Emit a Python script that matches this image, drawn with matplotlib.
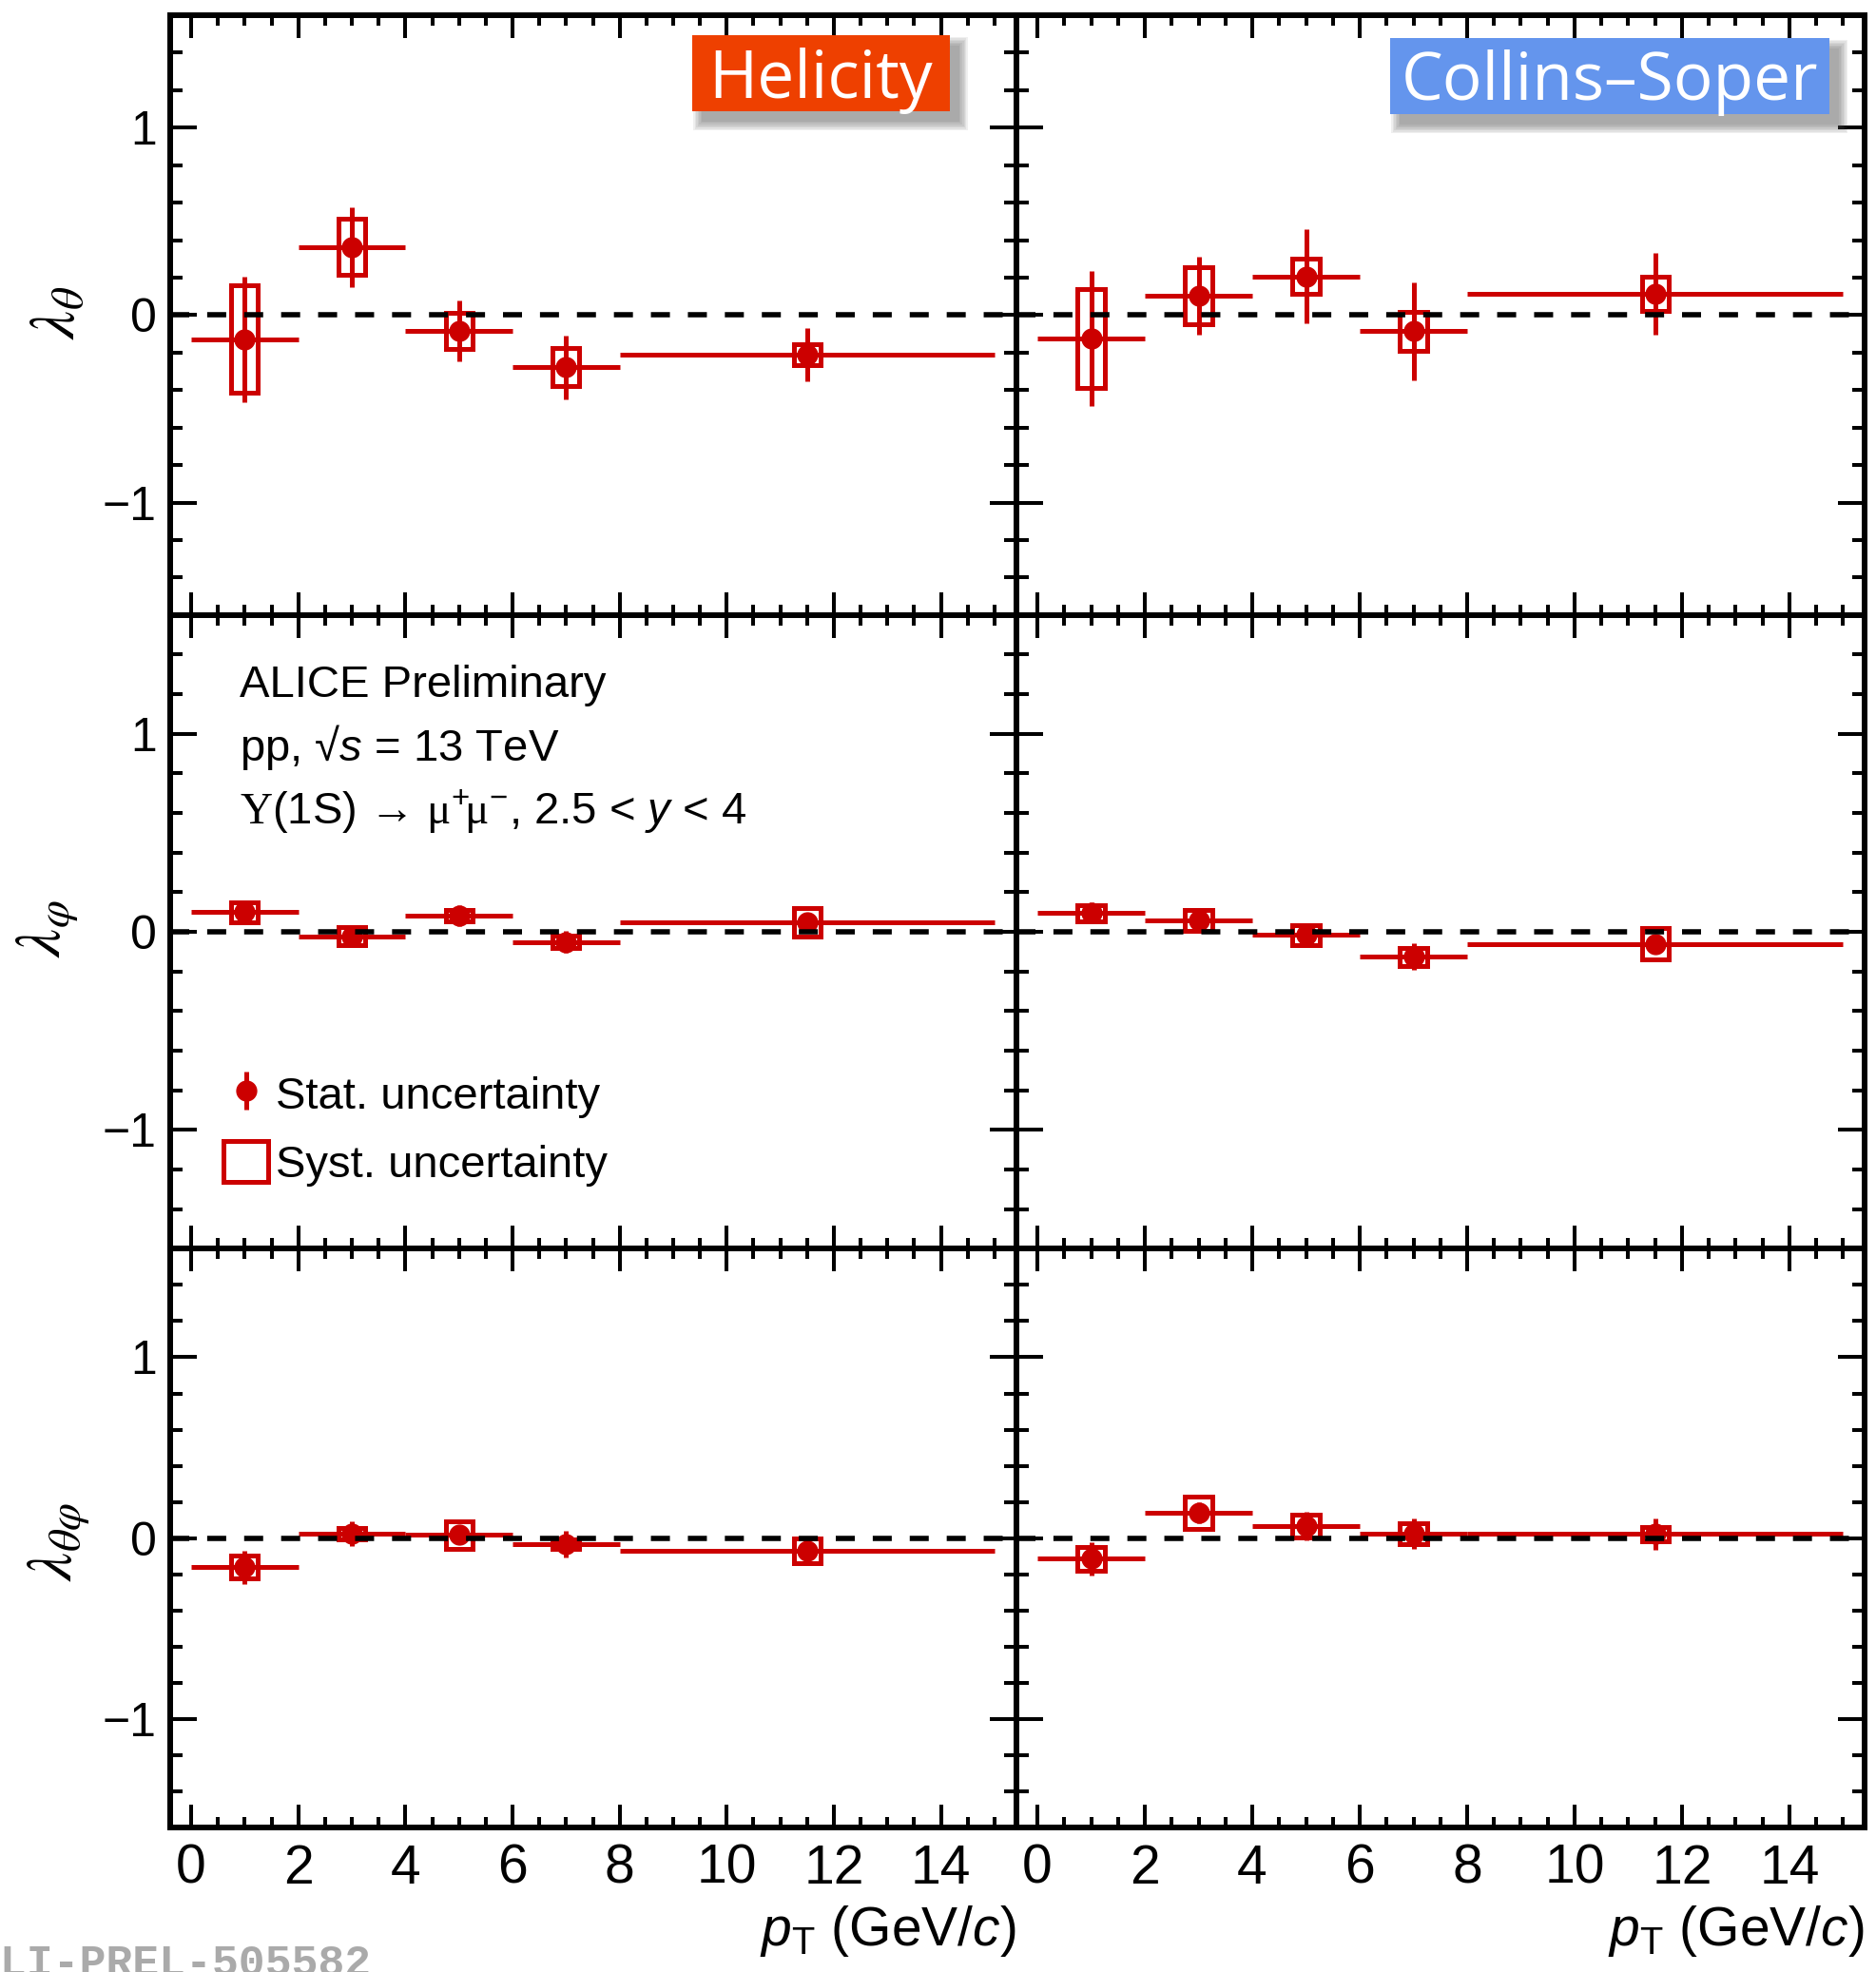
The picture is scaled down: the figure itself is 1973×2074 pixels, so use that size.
import matplotlib
matplotlib.use('Agg')
import matplotlib.pyplot as plt
from matplotlib.patches import Rectangle
from matplotlib.lines import Line2D
from matplotlib.legend_handler import HandlerTuple
import numpy as np

W, H = 1973, 2074
plt.rcParams['font.family'] = ['Liberation Sans', 'DejaVu Sans']
plt.rcParams['mathtext.fontset'] = 'custom'
plt.rcParams['mathtext.rm'] = 'Liberation Sans'
plt.rcParams['mathtext.it'] = 'Liberation Sans:italic'
plt.rcParams['mathtext.bf'] = 'Liberation Sans:bold'
plt.rcParams['mathtext.sf'] = 'Liberation Serif'

# ---------------- data ----------------
pt_centers = [1.0, 3.0, 5.0, 7.0, 11.5]
pt_low = [0.0, 2.0, 4.0, 6.0, 8.0]
pt_high = [2.0, 4.0, 6.0, 8.0, 15.0]

# Helicity frame
hx_lth = [-0.128, 0.363, -0.086, -0.278, -0.210]
hx_lth_stat = [0.335, 0.214, 0.163, 0.170, 0.143]
hx_lth_syst = [0.285, 0.150, 0.096, 0.100, 0.057]
hx_lph = [0.099, -0.022, 0.082, -0.050, 0.050]
hx_lph_stat = [0.062, 0.050, 0.055, 0.054, 0.040]
hx_lph_syst = [0.050, 0.045, 0.030, 0.030, 0.072]
hx_ltp = [-0.160, 0.024, 0.018, -0.034, -0.071]
hx_ltp_stat = [0.092, 0.070, 0.050, 0.075, 0.066]
hx_ltp_syst = [0.065, 0.030, 0.077, 0.025, 0.069]

# Collins-Soper frame
cs_lth = [-0.124, 0.103, 0.207, -0.086, 0.113]
cs_lth_stat = [0.360, 0.206, 0.250, 0.260, 0.220]
cs_lth_syst = [0.263, 0.153, 0.094, 0.105, 0.092]
cs_lph = [0.095, 0.058, -0.015, -0.125, -0.060]
cs_lph_stat = [0.053, 0.040, 0.055, 0.067, 0.040]
cs_lph_syst = [0.040, 0.055, 0.050, 0.045, 0.078]
cs_ltp = [-0.114, 0.140, 0.066, 0.023, 0.023]
cs_ltp_stat = [0.093, 0.060, 0.078, 0.085, 0.086]
cs_ltp_syst = [0.066, 0.088, 0.064, 0.057, 0.040]

row_labels = [r'$\lambda_{\theta}$', r'$\lambda_{\varphi}$', r'$\lambda_{\theta\varphi}$']
frame_labels = ['Helicity', 'Collins\u2013Soper']
frame_colors = ['#EE4000', '#6495ED']
x_ticks = [0, 2, 4, 6, 8, 10, 12, 14]
y_ticks = [-1, 0, 1]

RED = '#CC0000'
BOX_HW = 0.25
LW = 3.6

fig = plt.figure(figsize=(W / 100, H / 100), dpi=100)


def fx(px):
    return px / W


def fy(py):
    return 1 - py / H


col_x = [(178.5, 1068.5), (1068.5, 1961.0)]
row_y = [(16.0, 646.8), (646.8, 1313.4), (1313.4, 1921.9)]

data = [
    [(hx_lth, hx_lth_stat, hx_lth_syst), (cs_lth, cs_lth_stat, cs_lth_syst)],
    [(hx_lph, hx_lph_stat, hx_lph_syst), (cs_lph, cs_lph_stat, cs_lph_syst)],
    [(hx_ltp, hx_ltp_stat, hx_ltp_syst), (cs_ltp, cs_ltp_stat, cs_ltp_syst)],
]

axes = {}
for r, (yt, yb) in enumerate(row_y):
    for c, (xl, xr) in enumerate(col_x):
        ax = fig.add_axes([fx(xl), fy(yb), (xr - xl) / W, (yb - yt) / H])
        axes[(r, c)] = ax
        ax.set_xlim(-0.4, 15.4)
        ax.set_ylim(-1.6, 1.6)
        ax.set_xticks(x_ticks)
        ax.set_xticks(np.arange(0, 15.01, 0.5), minor=True)
        ax.set_yticks(y_ticks)
        ax.set_yticks(np.arange(-1.4, 1.41, 0.2), minor=True)
        ax.tick_params(which='both', direction='in', top=True, right=True,
                       width=2.9, color='black')
        ax.tick_params(axis='x', which='major', length=17)
        ax.tick_params(axis='x', which='minor', length=8)
        ax.tick_params(axis='y', which='major', length=20)
        ax.tick_params(axis='y', which='minor', length=9.5)
        ax.tick_params(axis='x', labelsize=41, pad=12, labelbottom=(r == 2))
        ax.tick_params(axis='y', labelsize=36, pad=10, labelleft=(c == 0))
        for s in ax.spines.values():
            s.set_linewidth(4.3)

        y, stat, syst = data[r][c]
        x = np.array(pt_centers)
        xerr = [x - np.array(pt_low), np.array(pt_high) - x]
        for xi, yi, si in zip(x, y, syst):
            ax.add_patch(Rectangle((xi - BOX_HW, yi - si), 2 * BOX_HW, 2 * si,
                                   fill=False, ec=RED, lw=LW, joinstyle='miter',
                                   zorder=3))
        ax.errorbar(x, y, yerr=stat, xerr=xerr, fmt='o', color=RED, ms=15,
                    elinewidth=LW, capsize=0, zorder=4)
        ax.axhline(0, color='black', lw=4, ls=(0, (3.6, 3.4)), zorder=5)

# y-axis labels
for lab, (px, py) in zip(row_labels, [(62, 329), (50, 977), (62, 1621)]):
    fig.text(fx(px), fy(py), lab, rotation=90, ha='center', va='center',
             fontsize=48, math_fontfamily='stix')

# x-axis labels
for xr in (1069, 1961):
    fig.text(fx(xr), fy(2046), r'$p_{\rm T}$ (GeV/$c$)', ha='right',
             va='baseline', fontsize=41)

# frame label boxes
boxes = [(728, 37, 999, 117, 103), (1462, 40, 1924, 120, 105)]
for (x0, y0, x1, y1, bl), lab, col in zip(boxes, frame_labels, frame_colors):
    for k in range(7):
        g = k * 1.5
        fig.add_artist(Rectangle((fx(x0 + 10 - g), fy(y1 + 11 + g)),
                                 (x1 - x0 + 2 * g) / W, (y1 - y0 + 2 * g) / H,
                                 transform=fig.transFigure, fc='#555555',
                                 ec='none', alpha=0.09, zorder=1))
    fig.add_artist(Rectangle((fx(x0), fy(y1)), (x1 - x0) / W, (y1 - y0) / H,
                             transform=fig.transFigure, fc=col, ec='none',
                             zorder=2))
    fig.text(fx((x0 + x1) / 2), fy(bl), lab, ha='center', va='baseline',
             fontsize=50, family='Open Sans', color='white', zorder=3)

# ALICE text
fig.text(fx(252), fy(733), 'ALICE Preliminary', fontsize=34, va='baseline')
fig.text(fx(252), fy(800), 'pp, \u221a$s$ = 13 TeV', fontsize=34, va='baseline')
fig.text(fx(252), fy(867),
         r'$\mathsf{\Upsilon}$(1S) ' + '\u2192' + r' $\mathsf{\mu}^{+}\!\mathsf{\mu}^{-}$, 2.5 < $y$ < 4',
         fontsize=34, va='baseline')

# legend
axl = axes[(1, 0)]
h_stat = (Line2D([], [], color=RED, marker='|', ms=29, mew=LW, ls='none'),
          Line2D([], [], color=RED, marker='o', ms=15, ls='none'))
h_syst = Rectangle((0, 0), 1, 1, fill=False, ec=RED, lw=LW, joinstyle='miter')
axl.legend([h_stat, h_syst], ['Stat. uncertainty', 'Syst. uncertainty'],
           handler_map={tuple: HandlerTuple(ndivide=1)},
           loc='upper left', bbox_to_anchor=(fx(235), fy(1128)),
           bbox_transform=fig.transFigure, frameon=False, fontsize=34,
           handlelength=1.0, handleheight=1.05, handletextpad=0.17,
           labelspacing=0.5, borderpad=0, borderaxespad=0)

# watermark
fig.text(fx(390), -0.002, 'ALI-PREL-505582', ha='right', va='baseline',
         family='Liberation Mono', weight='bold', fontsize=33.5, color='#AAAAAA')

fig.savefig('out.png', dpi=100)
